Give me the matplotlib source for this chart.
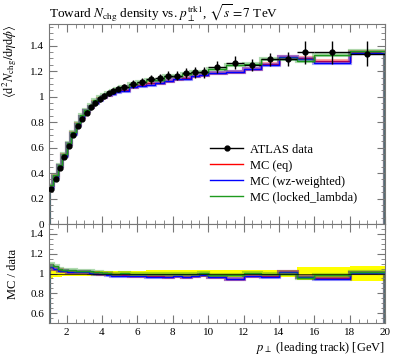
import numpy as np
import matplotlib
matplotlib.use('Agg')
import matplotlib.pyplot as plt
from matplotlib.ticker import MultipleLocator, FormatStrFormatter

plt.rcParams['font.family'] = ['Liberation Serif', 'DejaVu Serif']
plt.rcParams['mathtext.fontset'] = 'stix'

# bin edges in leading-track pT [GeV]
edges = [1.0, 1.25, 1.5, 1.75, 2.0, 2.25, 2.5, 2.75, 3.0, 3.25, 3.5, 3.75, 4.0,
         4.25, 4.5, 4.75, 5.0, 5.5, 6.0, 6.5, 7.0, 7.5, 8.0, 8.5, 9.0, 9.5, 10.0,
         11.0, 12.0, 13.0, 14.0, 15.0, 16.0, 18.0, 20.0]

data_y = [0.277, 0.356, 0.440, 0.526, 0.616, 0.697, 0.768, 0.828, 0.875, 0.915,
          0.951, 0.980, 1.004, 1.025, 1.045, 1.062,
          1.072, 1.100, 1.117, 1.138, 1.143, 1.165, 1.165, 1.183, 1.190, 1.190,
          1.235, 1.266, 1.248, 1.293, 1.295, 1.348, 1.348, 1.337]
data_err = [0.016, 0.014, 0.014, 0.014, 0.015, 0.016, 0.017, 0.018, 0.019, 0.020,
            0.021, 0.022, 0.022, 0.023, 0.024, 0.025,
            0.030, 0.032, 0.033, 0.035, 0.035, 0.036, 0.037, 0.038, 0.040, 0.040,
            0.048, 0.050, 0.050, 0.052, 0.052, 0.088, 0.088, 0.100]

mc_eq = [0.296, 0.374, 0.455, 0.539, 0.628, 0.711, 0.782, 0.840, 0.884, 0.922,
         0.956, 0.980, 0.999, 1.015, 1.026, 1.041,
         1.053, 1.076, 1.089, 1.104, 1.109, 1.124, 1.136, 1.145, 1.160, 1.172,
         1.188, 1.196, 1.217, 1.254, 1.311, 1.301, 1.281, 1.350]
mc_wz = [0.295, 0.372, 0.453, 0.537, 0.627, 0.710, 0.780, 0.838, 0.884, 0.920,
         0.951, 0.975, 0.994, 1.010, 1.022, 1.035,
         1.048, 1.073, 1.086, 1.095, 1.106, 1.121, 1.136, 1.136, 1.160, 1.172,
         1.186, 1.190, 1.217, 1.252, 1.311, 1.294, 1.267, 1.344]
mc_ll = [0.305, 0.383, 0.462, 0.547, 0.638, 0.721, 0.791, 0.853, 0.897, 0.935,
         0.970, 0.995, 1.014, 1.030, 1.045, 1.062,
         1.077, 1.100, 1.115, 1.132, 1.132, 1.159, 1.165, 1.181, 1.190, 1.196,
         1.216, 1.247, 1.260, 1.293, 1.295, 1.281, 1.328, 1.357]

edges = np.array(edges)
centers = 0.5 * (edges[:-1] + edges[1:])
halfw = 0.5 * (edges[1:] - edges[:-1])
data_y = np.array(data_y)
data_err = np.array(data_err)

mcs = [(np.array(mc_eq), 'red', 'MC (eq)'),
       (np.array(mc_wz), 'blue', 'MC (wz-weighted)'),
       (np.array(mc_ll), '#1e9a1e', 'MC (locked_lambda)')]

fig = plt.figure(figsize=(3.97, 3.58), dpi=100)
ax = fig.add_axes([0.1234, 0.374, 0.8466, 0.559])
axr = fig.add_axes([0.1234, 0.098, 0.8466, 0.276], sharex=ax)

# main panel
for vals, col, lab in mcs:
    ax.stairs(vals, edges, color=col, lw=3, alpha=0.35)
    ax.stairs(vals, edges, color=col, lw=1.0)
ax.errorbar(centers, data_y, yerr=data_err, xerr=halfw, fmt='o', color='black',
            ms=3.5, lw=1.0, capsize=0, zorder=5)

h_data, = ax.plot([], [], 'o-', color='black', ms=3.5, lw=1.0)
handles = [h_data] + [ax.plot([], [], color=c, lw=1.0)[0] for _, c, _ in mcs]
labels = ['ATLAS data'] + [l for _, _, l in mcs]
ax.legend(handles, labels, loc='lower right', bbox_to_anchor=(0.94, 0.065),
          frameon=False, fontsize=9, handlelength=2.6, labelspacing=0.32,
          borderaxespad=0.2, handletextpad=0.6)

ax.set_xlim(1, 20)
ax.set_ylim(0, 1.57)
ax.yaxis.set_major_locator(MultipleLocator(0.2))
ax.yaxis.set_minor_locator(MultipleLocator(0.05))
ax.yaxis.set_major_formatter(FormatStrFormatter('%g'))
ax.tick_params(labelbottom=False)
ax.set_ylabel(r'$\langle\mathrm{d}^2 N_\mathrm{chg}/\mathrm{d}\eta\mathrm{d}\phi\rangle$',
              fontsize=9, loc='top')
ax.set_title(r'Toward $N_\mathrm{chg}$ density vs. $p_\perp^\mathrm{trk1}$, $\sqrt{s} = 7$ TeV',
             fontsize=9.5, loc='left', pad=4)

# ratio panel
rel = data_err / data_y
axr.fill_between(edges, np.append(1 - rel, 1 - rel[-1]), np.append(1 + rel, 1 + rel[-1]),
                 step='post', color='yellow', lw=0)
axr.axhline(1, color='black', lw=0.5)
for vals, col, lab in mcs:
    r = vals / data_y
    axr.stairs(r, edges, color=col, lw=3, alpha=0.35)
    axr.stairs(r, edges, color=col, lw=1.0)

axr.set_ylim(0.5, 1.5)
axr.yaxis.set_major_locator(MultipleLocator(0.2))
axr.yaxis.set_minor_locator(MultipleLocator(0.05))
axr.yaxis.set_major_formatter(FormatStrFormatter('%g'))
axr.xaxis.set_major_locator(MultipleLocator(2))
axr.xaxis.set_minor_locator(MultipleLocator(0.5))
axr.set_ylabel('MC / data', fontsize=9)
axr.set_xlabel(r'$p_\perp$ (leading track) [GeV]', fontsize=9, loc='right', labelpad=2)

for a in (ax, axr):
    a.tick_params(which='both', direction='in', top=True, right=True, labelsize=8,
                  color='#777777')
    a.tick_params(which='major', length=6)
    a.tick_params(which='minor', length=3)
    for s in a.spines.values():
        s.set_color('#777777')
        s.set_linewidth(0.8)

ax.yaxis.set_label_coords(-0.088, 1.0)
axr.yaxis.set_label_coords(-0.088, 0.5)

fig.savefig('out.png', dpi=100)
